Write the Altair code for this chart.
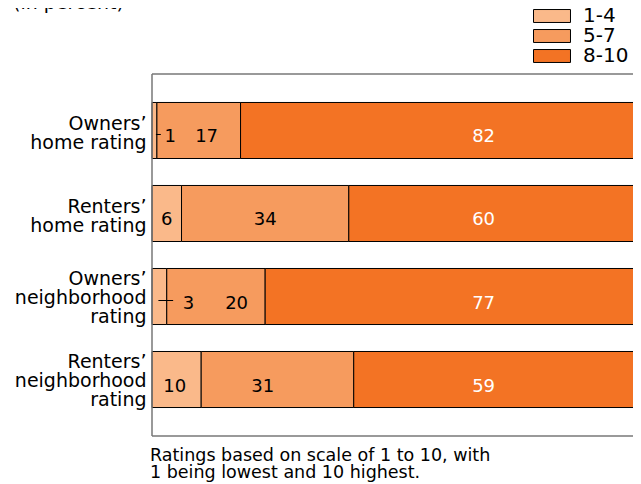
import altair as alt
import pandas as pd

# ---- data ----
categories = [
    "Owners’|home rating",
    "Renters’|home rating",
    "Owners’|neighborhood|rating",
    "Renters’|neighborhood|rating",
]
ratings = ["1-4", "5-7", "8-10"]
low = [1, 6, 3, 10]
mid = [17, 34, 20, 31]
high = [82, 60, 77, 59]
colors = ["#FAB98A", "#F69B5E", "#F37324"]

title_text = "(in percent)"
note_text = "Ratings based on scale of 1 to 10, with\n1 being lowest and 10 highest."

# ---- layout / label placement tweaks ----
FONT = "DejaVu Sans"
W, H = 481, 362          # visible plot area (page must not overflow)
FULL = 492               # pixel length of 0..100 %
NUDGE = {(0, 0): 3.2, (0, 1): 1.6, (2, 0): 5.9, (2, 1): 4.2, (3, 0): -0.4, (3, 1): -3.0}
HIGH_LABEL_AT = 67.4
LEADERS = {0: (0.8, 1.8), 2: (1.3, 4.3)}
FRAME = "#777777"

rows = []
for i, c in enumerate(categories):
    start = 0
    for j, (r, v) in enumerate(zip(ratings, [low[i], mid[i], high[i]])):
        lx = HIGH_LABEL_AT if j == 2 else start + v / 2 + NUDGE.get((i, j), 0)
        rows.append(dict(cat=c, rating=r, value=v, start=start, end=start + v, lx=lx, grp=j))
        start += v
df = pd.DataFrame(rows)
lead = pd.DataFrame([dict(cat=categories[i], x1=a, x2=b) for i, (a, b) in LEADERS.items()])

xscale = alt.Scale(domain=[0, 100], range=[0, FULL], nice=False, zero=True)
yenc = alt.Y(
    "cat:N",
    sort=categories,
    scale=alt.Scale(paddingInner=0.325, paddingOuter=0.343),
    axis=alt.Axis(
        title=None, domain=False, ticks=False, labelPadding=6,
        labelExpr="split(datum.label, '|')", labelFont=FONT, labelFontSize=19,
        labelColor="black", labelLineHeight=19, labelAlign="right", labelBaseline="middle",
        labelOffset={"condition": {"test": "indexof(datum.value, 'neighborhood') >= 0", "value": -18},
                     "value": -6},
        labelLimit=300,
    ),
)

base = alt.Chart(df)

bars = base.mark_bar(stroke="black", strokeWidth=1).encode(
    x=alt.X("start:Q", scale=xscale, axis=None),
    x2="end:Q",
    y=yenc,
    fill=alt.Fill(
        "rating:N",
        scale=alt.Scale(domain=ratings, range=colors),
        legend=alt.Legend(
            title=None, orient="none", legendX=390, legendY=-68,
            labelFont=FONT, labelFontSize=20, labelColor="black",
            symbolType="M-2,-0.7H2V0.7H-2Z", symbolSize=342,
            symbolStrokeColor="black", symbolStrokeWidth=1, labelOffset=21,
            rowPadding=0, symbolOpacity=1,
        ),
    ),
)

dark_text = base.transform_filter("datum.grp < 2").mark_text(
    font=FONT, fontSize=18, baseline="alphabetic", dy=12, color="black"
).encode(x=alt.X("lx:Q", scale=xscale), y=alt.Y("cat:N", sort=categories), text="value:Q")

light_text = base.transform_filter("datum.grp == 2").mark_text(
    font=FONT, fontSize=18, baseline="alphabetic", dy=12, color="white"
).encode(x=alt.X("lx:Q", scale=xscale), y=alt.Y("cat:N", sort=categories), text="value:Q")

leaders = alt.Chart(lead).mark_rule(color="black", strokeWidth=1, yOffset=4).encode(
    x=alt.X("x1:Q", scale=xscale), x2="x2:Q", y=alt.Y("cat:N", sort=categories)
)

# open-right frame around the plot
frame_top = alt.Chart(pd.DataFrame({"a": [0]})).mark_rule(color=FRAME, strokeWidth=1.5).encode(
    x=alt.value(0), x2=alt.value(W + 20), y=alt.value(0))
frame_bottom = alt.Chart(pd.DataFrame({"a": [0]})).mark_rule(color=FRAME, strokeWidth=1.5).encode(
    x=alt.value(0), x2=alt.value(W + 20), y=alt.value(H))
frame_left = alt.Chart(pd.DataFrame({"a": [0]})).mark_rule(color=FRAME, strokeWidth=1.5).encode(
    x=alt.value(0), y=alt.value(0), y2=alt.value(H))

title = alt.Chart(pd.DataFrame({"t": [title_text]})).mark_text(
    align="left", baseline="alphabetic", font=FONT, fontSize=19, color="black"
).encode(x=alt.value(-139), y=alt.value(-65), text="t:N")

note = alt.Chart(pd.DataFrame({"t": [note_text]})).mark_text(
    align="left", baseline="alphabetic", font=FONT, fontSize=17.5, color="black",
    lineBreak="\n", lineHeight=17,
).encode(x=alt.value(-2), y=alt.value(387), text="t:N")

chart = alt.layer(
    bars, dark_text, light_text, leaders, frame_top, frame_bottom, frame_left, title, note
).properties(
    width=W, height=H,
    autosize=alt.AutoSizeParams(type="none"),
    padding={"left": 144, "top": 66, "right": 0, "bottom": 50},
).configure_view(stroke=None)

chart.save("out.html", embed_options={"renderer": "svg", "actions": False})
